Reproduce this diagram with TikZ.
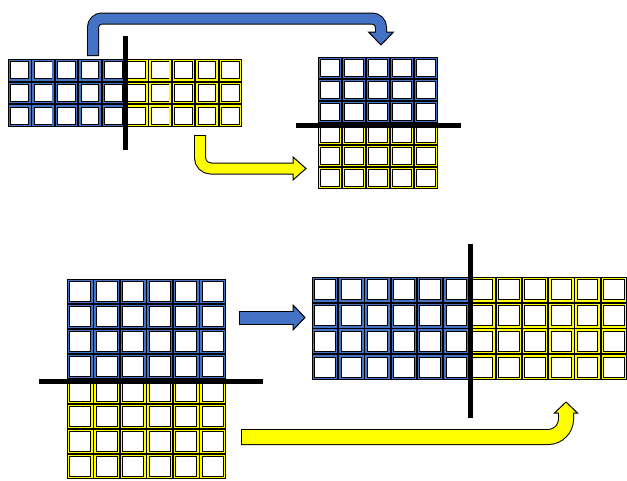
\documentclass[tikz,border=0pt]{standalone}
\definecolor{bblue}{HTML}{4472C4}
\definecolor{yyel}{HTML}{FFFF00}
\tikzset{
  cell/.style={draw=black, line width=0.9pt, double=#1, double distance=1.5pt, fill=white},
  divider/.style={line width=5pt, black, line cap=butt},
  shaftout/.style={line width=#1, black, line cap=butt},
  shaftin/.style 2 args={line width=#1, #2, line cap=butt},
  arrowhead/.style={fill=#1, draw=black, line width=1pt, line join=miter},
}
\newcommand\cellgrid[7]{%
  \foreach \i in {1,...,#5}{\foreach \j in {1,...,#6}{%
    \draw[cell=#7] ({#1+(\i-1)*#3+1.65},{#2+(\j-1)*#4+1.65}) rectangle ({#1+\i*#3-1.65},{#2+\j*#4-1.65});
  }}}
\begin{document}
\begin{tikzpicture}[x=1pt,y=-1pt]
\useasboundingbox (0,0) rectangle (627,480);
% grid 1 (top left)
\cellgrid{8}{59}{23.4}{22.67}{5}{3}{bblue}
\cellgrid{125}{59}{23.4}{22.67}{5}{3}{yyel}
% grid 2 (top right)
\cellgrid{318}{57}{24}{22}{5}{3}{bblue}
\cellgrid{318}{123}{24}{22}{5}{3}{yyel}
% grid 3 (bottom left)
\cellgrid{67}{279}{26.5}{25}{6}{4}{bblue}
\cellgrid{67}{379}{26.5}{25}{6}{4}{yyel}
% grid 4 (bottom right)
\cellgrid{312}{277}{26.25}{25.75}{6}{4}{bblue}
\cellgrid{469.5}{277}{26.25}{25.75}{6}{4}{yyel}
% dividers
\draw[divider] (125,36) -- (125,150);
\draw[divider] (296,125) -- (461,125);
\draw[divider] (39,381) -- (263,381);
\draw[divider] (470,244) -- (470,418);
% top blue bent arrow
\draw[shaftout=12pt, rounded corners=9pt] (93,56) -- (93,18.5) -- (381,18.5) -- (381,33);
\filldraw[arrowhead=bblue] (368.5,32) -- (393.5,32) -- (381,45) -- cycle;
\draw[shaftin={10pt}{bblue}, rounded corners=9pt] (93,55) -- (93,18.5) -- (381,18.5) -- (381,33.5);
% top yellow bent arrow
\draw[shaftout=12pt, rounded corners=11pt] (200,135) -- (200,168.5) -- (294,168.5);
\filldraw[arrowhead=yyel] (293,157) -- (306,168.5) -- (293,180) -- cycle;
\draw[shaftin={10pt}{yyel}, rounded corners=11pt] (200,136) -- (200,168.5) -- (294.5,168.5);
% bottom blue straight arrow
\draw[shaftout=14pt] (239,317.5) -- (294,317.5);
\filldraw[arrowhead=bblue] (293,305) -- (305,317.5) -- (293,330) -- cycle;
\draw[shaftin={12pt}{bblue}] (240,317.5) -- (294.5,317.5);
% bottom yellow bent arrow
\draw[shaftout=16pt, rounded corners=18pt] (241,437) -- (566,437) -- (566,412);
\filldraw[arrowhead=yyel] (554.5,413) -- (566,402) -- (577.5,413) -- cycle;
\draw[shaftin={14pt}{yyel}, rounded corners=18pt] (242,437) -- (566,437) -- (566,411.5);
\end{tikzpicture}
\end{document}
